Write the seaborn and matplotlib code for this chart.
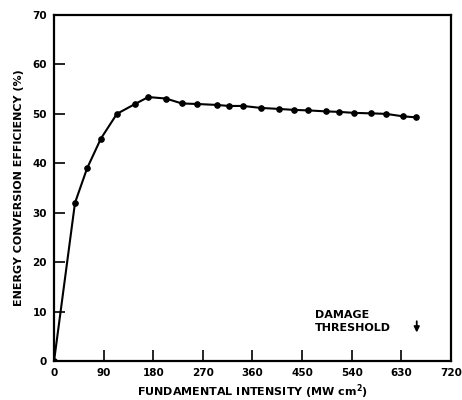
import matplotlib
matplotlib.use("Agg")
import matplotlib.pyplot as plt
import seaborn as sns
import pandas as pd

# значения
intensity = [0, 38, 60, 85, 114, 147, 171, 203, 232, 259, 296, 317, 343,
             375, 408, 435, 461, 493, 517, 544, 575, 602, 633, 656]
efficiency = [0, 32, 39, 45, 50, 52, 53.4, 53.1, 52.1, 52.0, 51.8, 51.6, 51.6,
              51.2, 51.0, 50.8, 50.7, 50.5, 50.4, 50.2, 50.1, 50.0, 49.5, 49.3]
x_ticks = [0, 90, 180, 270, 360, 450, 540, 630, 720]
y_ticks = [0, 10, 20, 30, 40, 50, 60, 70]
threshold_x = 658

df = pd.DataFrame({"intensity": intensity, "efficiency": efficiency})

sns.set_style("ticks")
plt.rcParams["font.family"] = ["DejaVu Sans"]
plt.rcParams["text.color"] = "black"
plt.rcParams["axes.labelcolor"] = "black"
plt.rcParams["xtick.color"] = "black"
plt.rcParams["ytick.color"] = "black"

fig = plt.figure(figsize=(4.62, 4.0), dpi=100)
ax = fig.add_axes([0.117, 0.0975, 0.859, 0.865])

sns.lineplot(data=df, x="intensity", y="efficiency", ax=ax, color="black",
             marker="o", markersize=4, markeredgecolor="black", linewidth=1.5)

ax.set_xlim(0, 720)
ax.set_ylim(0, 70)
ax.set_xticks(x_ticks)
ax.set_yticks(y_ticks)
ax.tick_params(direction="in", length=8, width=1.2, labelsize=7.5, pad=5)
for lbl in ax.get_xticklabels() + ax.get_yticklabels():
    lbl.set_fontweight("bold")
for s in ax.spines.values():
    s.set_linewidth(1.6)
    s.set_color("black")

ax.set_xlabel("FUNDAMENTAL INTENSITY (MW cm$^{\\mathbf{2}}$)", fontsize=8,
              fontweight="bold", labelpad=3)
ax.set_ylabel("ENERGY CONVERSION EFFICIENCY (%)", fontsize=8,
              fontweight="bold", labelpad=6)

ax.text(473, 10.3, "DAMAGE\nTHRESHOLD", fontsize=8, fontweight="bold",
        va="top", ha="left", linespacing=1.4)
ax.annotate("", xy=(threshold_x, 5.2), xytext=(threshold_x, 8.6),
            arrowprops=dict(arrowstyle="-|>", color="black", lw=1.3,
                            mutation_scale=8))

fig.savefig("out.png", dpi=100)
